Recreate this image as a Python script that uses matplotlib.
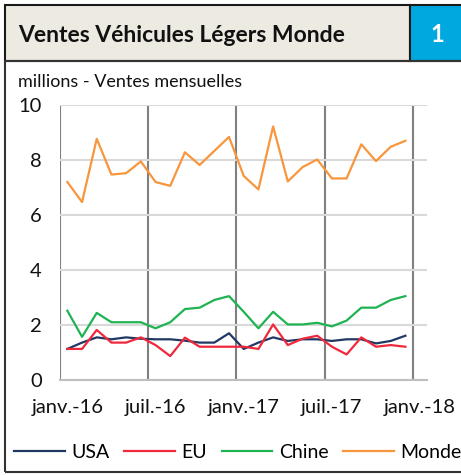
import matplotlib
matplotlib.use("Agg")
from matplotlib import pyplot as plt
from matplotlib.patches import Rectangle
from matplotlib.lines import Line2D
import numpy as np

plt.rcParams['font.family'] = ['Lato', 'DejaVu Sans']

# monthly sales, millions, janv.-16 .. déc.-17
months = np.arange(24)
usa = [1.13, 1.36, 1.55, 1.48, 1.55, 1.50, 1.48, 1.48, 1.43, 1.36, 1.36, 1.70,
       1.13, 1.36, 1.55, 1.42, 1.48, 1.48, 1.42, 1.48, 1.48, 1.33, 1.42, 1.61]
eu = [1.13, 1.13, 1.82, 1.36, 1.36, 1.55, 1.27, 0.87, 1.54, 1.21, 1.21, 1.21,
      1.21, 1.13, 2.02, 1.27, 1.50, 1.61, 1.21, 0.93, 1.55, 1.21, 1.27, 1.21]
chine = [2.52, 1.57, 2.44, 2.10, 2.10, 2.10, 1.88, 2.10, 2.58, 2.63, 2.91, 3.05,
         2.48, 1.88, 2.48, 2.02, 2.02, 2.08, 1.95, 2.16, 2.63, 2.63, 2.91, 3.05]
monde = [7.20, 6.47, 8.77, 7.47, 7.52, 7.95, 7.20, 7.06, 8.28, 7.82, 8.33, 8.84,
         7.42, 6.93, 9.22, 7.22, 7.74, 8.02, 7.33, 7.33, 8.57, 7.96, 8.48, 8.70]

tick_pos = [0, 6, 12, 18, 24]
tick_labels = ['janv.-16', 'juil.-16', 'janv.-17', 'juil.-17', 'janv.-18']
names = ['USA', 'EU', 'Chine', 'Monde']
colors = ['#203864', '#F0283C', '#1FB352', '#F7963C']

W, H = 461, 475
fig = plt.figure(figsize=(W / 100, H / 100), dpi=100)

# frame + title band
fig.patches.append(Rectangle((5 / W, 1 - 61 / H), 405 / W, 56 / H, transform=fig.transFigure,
                             facecolor='#EDEAE1', edgecolor='#1a1a1a', lw=1.5))
fig.patches.append(Rectangle((410 / W, 1 - 61 / H), 60 / W, 56 / H, transform=fig.transFigure,
                             facecolor='#00A8E0', edgecolor='#1a1a1a', lw=1.5))
fig.patches.append(Rectangle((5 / W, 1 - 472 / H), 470 / W, 411 / H, transform=fig.transFigure,
                             facecolor='none', edgecolor='#333333', lw=1.5))
fig.text(18 / W, 1 - 35 / H, 'Ventes Véhicules Légers Monde', fontsize=16.5, fontweight='bold',
         va='center', ha='left', color='#111111')
fig.text(437 / W, 1 - 35 / H, '1', fontsize=17, fontweight='bold', color='white',
         va='center', ha='center')
fig.text(18 / W, 1 - 82 / H, 'millions - Ventes mensuelles', fontsize=13, va='center', ha='left',
         color='#111111')

ax = fig.add_axes([60 / W, 1 - 380 / H, 367 / W, 275 / H])
for vals, name, c in zip([usa, eu, chine, monde], names, colors):
    ax.plot(months, vals, color=c, lw=1.6, label=name)

ax.set_xlim(-0.5, 24.47)
ax.set_ylim(0, 10)
ax.set_yticks([0, 2, 4, 6, 8, 10])
ax.set_xticks(tick_pos)
ax.set_xticklabels(tick_labels)
ax.set_xticks([-0.5, 5.5, 11.5, 17.5, 23.5], minor=True)
ax.grid(axis='y', color='#D9D9D9', lw=1.5)
ax.grid(axis='x', which='minor', color='#808080', lw=1.5)
ax.set_axisbelow(True)
for s in ['top', 'right', 'left']:
    ax.spines[s].set_visible(False)
ax.spines['bottom'].set_color('#BFBFBF')
ax.spines['bottom'].set_linewidth(1.5)
ax.tick_params(axis='both', which='both', length=0, labelsize=14.5, colors='#111111')
ax.tick_params(axis='y', pad=13)
ax.tick_params(axis='x', pad=14)

handles = [Line2D([], [], color=c, lw=1.6) for c in colors]
fig.legend(handles, names, loc='center', bbox_to_anchor=(238 / W, 1 - 452 / H), ncol=4,
           frameon=False, fontsize=14, handlelength=2.6, handletextpad=0.35,
           columnspacing=0.75)

fig.savefig('out.png', dpi=100)
